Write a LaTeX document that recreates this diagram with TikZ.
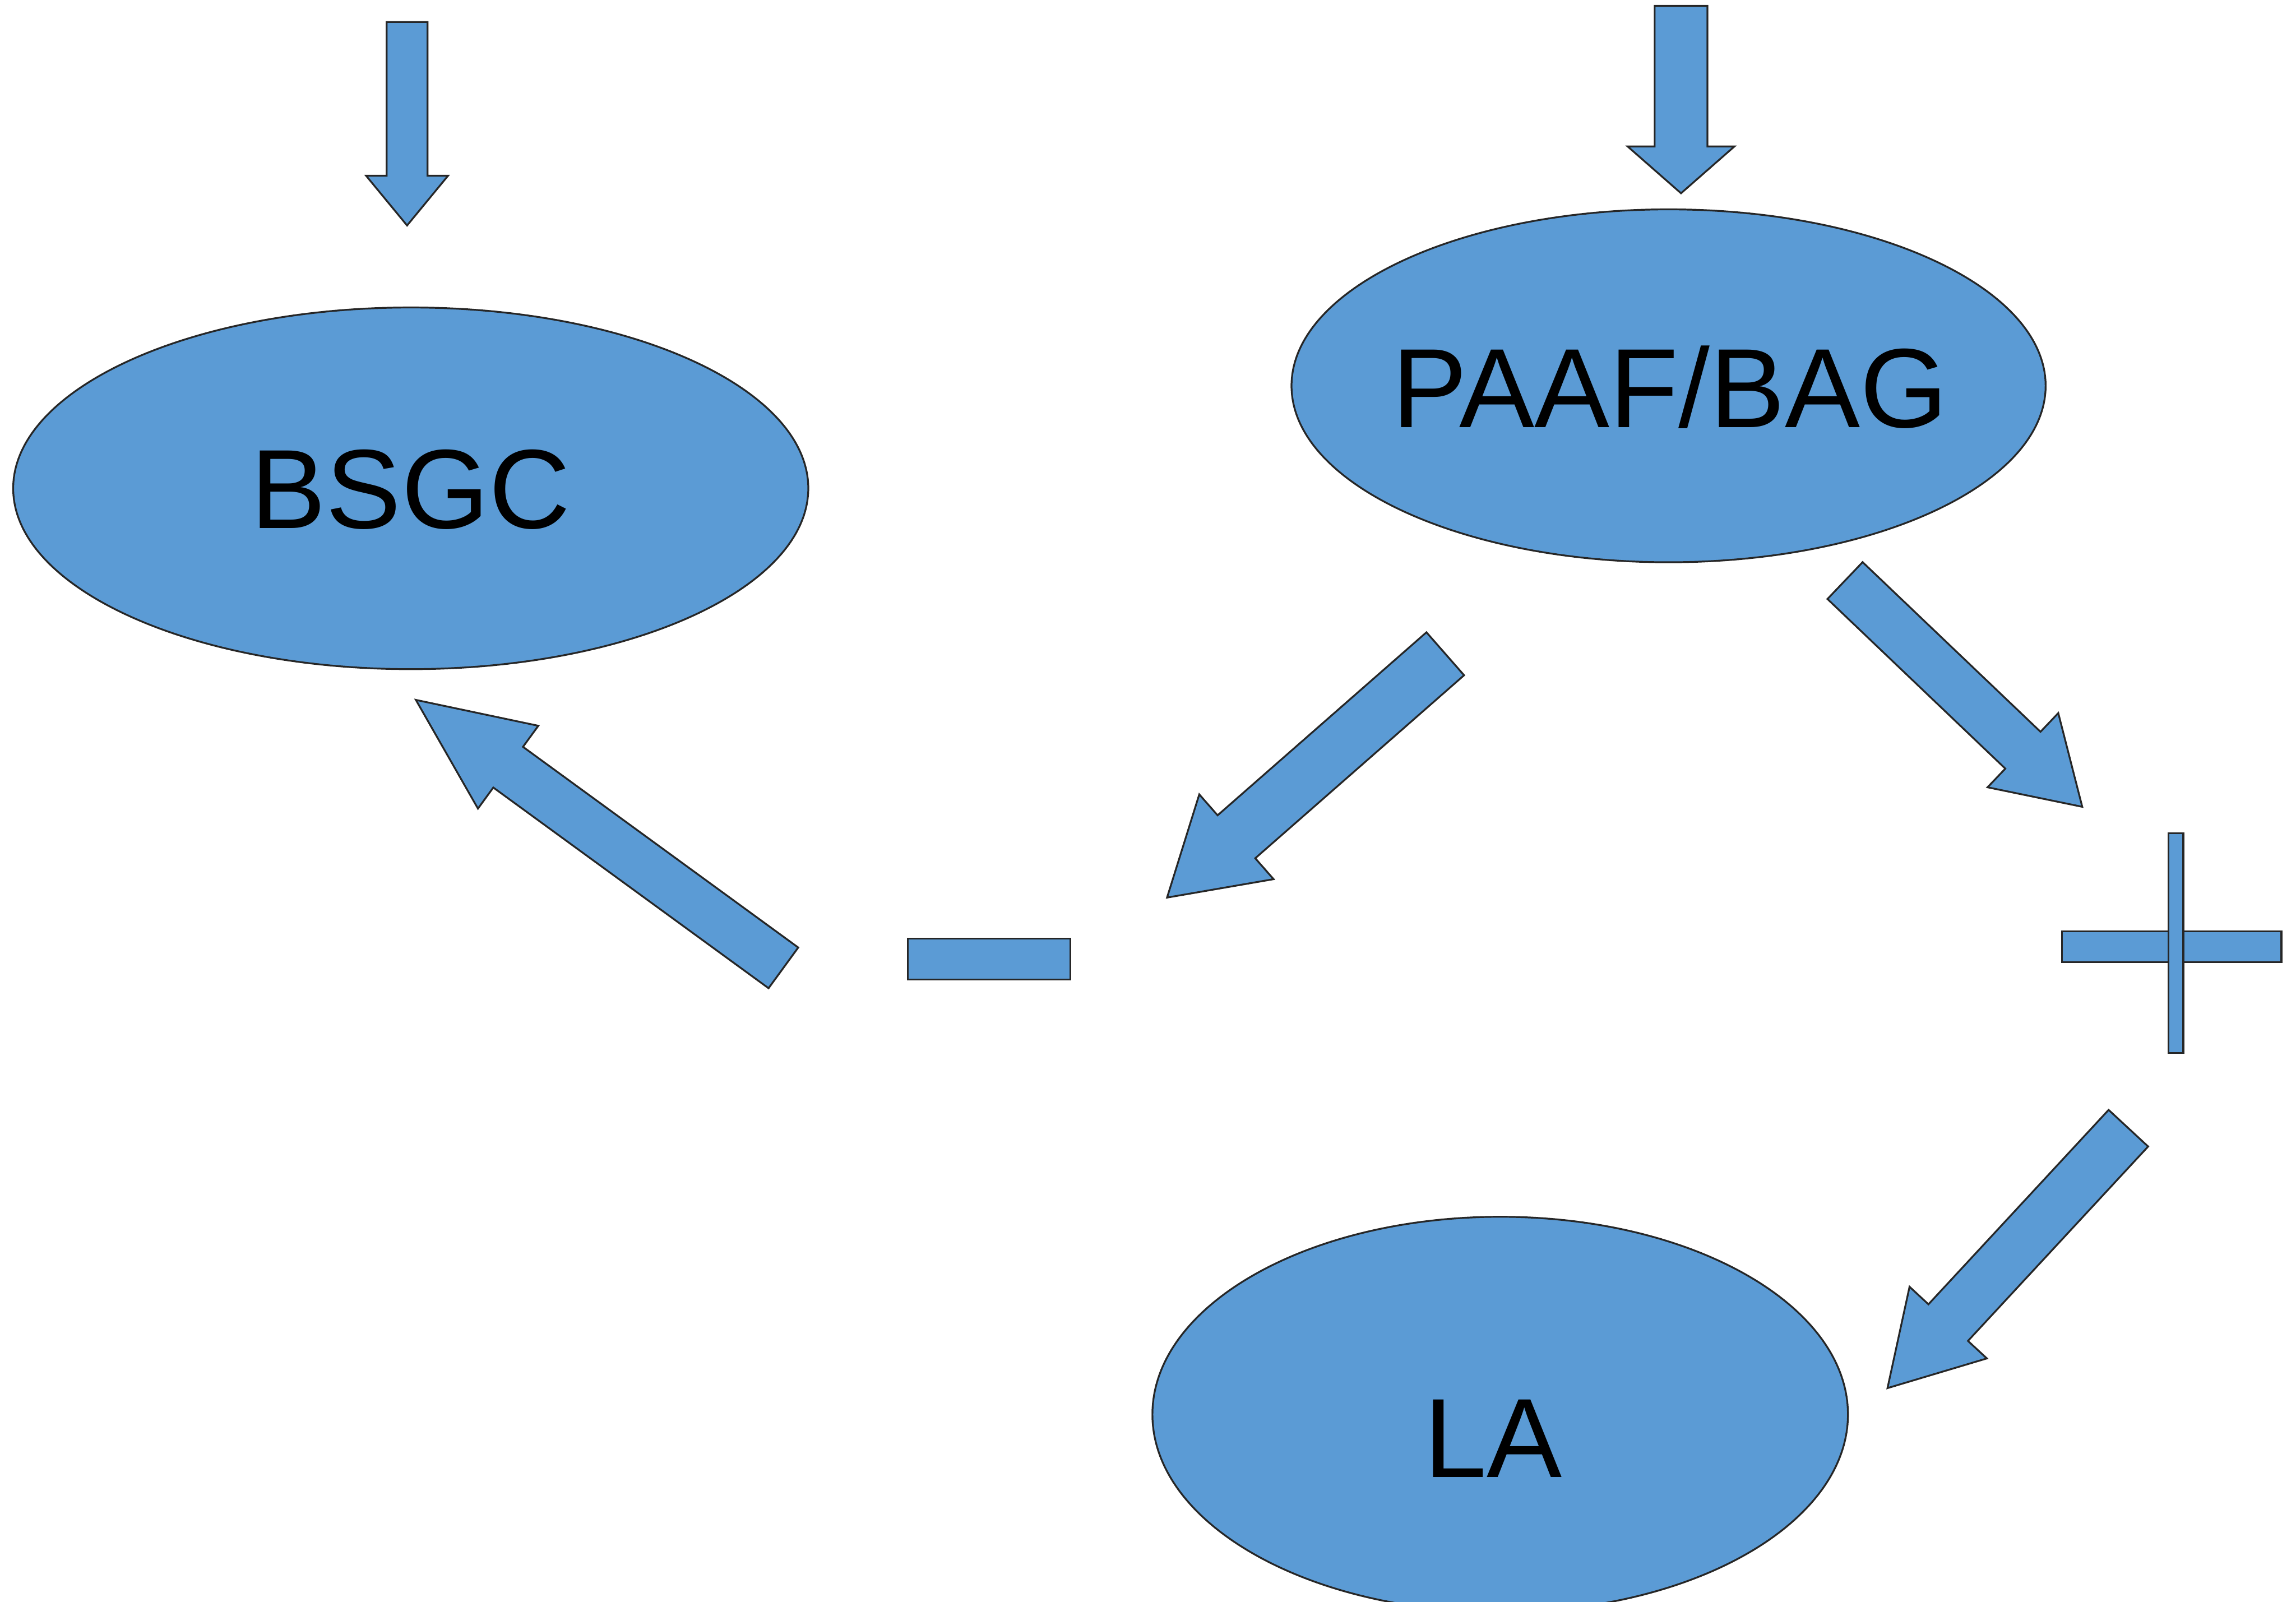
\documentclass[tikz,border=0pt]{standalone}
\usepackage{fontspec}
\setmainfont{Liberation Sans}
\usepackage{tikz}
\usetikzlibrary{shapes,arrows,positioning,calc}

\definecolor{blobblue}{HTML}{5B9BD5}

\tikzset{
    blob/.style={ellipse, fill=blobblue, draw=black!85, line width=0.35pt, inner sep=0pt},
    bar/.style={rectangle, fill=blobblue, draw=black!85, line width=0.35pt, inner sep=0pt},
    arrowfill/.style={fill=blobblue, draw=black!85, line width=0.35pt, line join=miter},
    lbl/.style={font=\fontsize{21.9}{26}\selectfont, inner sep=0pt}
}

% fat block arrow: tail, tip, half shaft, half head, head length
\newcommand{\fatarrow}[5]{%
    \coordinate (fa-base) at ($(#2)!#5!(#1)$);
    \draw[arrowfill] ($(#1)!#3!90:(#2)$) -- ($(fa-base)!#3!-90:(#1)$)
        -- ($(fa-base)!#4!-90:(#1)$) -- (#2) -- ($(fa-base)!#4!90:(#1)$)
        -- ($(fa-base)!#3!90:(#1)$) -- ($(#1)!#3!-90:(#2)$) -- cycle;
}

\begin{document}
\begin{tikzpicture}
    \useasboundingbox (0,0) rectangle (15.68,10.94);

    % the three ellipses
    \node[blob, minimum width=5.43cm, minimum height=2.47cm] (bsgc) at (2.805,7.605) {};
    \node[blob, minimum width=5.15cm, minimum height=2.41cm] (paaf) at (11.395,8.305) {};
    \node[blob, minimum width=4.75cm, minimum height=2.70cm] (la) at (10.245,1.28) {};
    \node[lbl] (bsgctext) at ([yshift=-0.1mm]bsgc.center) {BSGC};
    \node[lbl] (paaftext) at ([xshift=0.1mm, yshift=-0.1mm]paaf.center) {PAAF/BAG};
    \node[lbl] (latext) at ([xshift=-0.5mm, yshift=-1.65mm]la.center) {LA};

    % minus and plus signs
    \node[bar, minimum width=1.11cm, minimum height=0.28cm] (minus) at (6.755,4.39) {};
    \node[bar, minimum width=1.50cm, minimum height=0.21cm] (plush) at (14.83,4.475) {};
    \node[bar, minimum width=0.10cm, minimum height=1.50cm] (plusv) at (14.86,4.50) {};

    % arrow ends
    \coordinate (bsgc-in)   at (2.78,10.79);
    \coordinate (bsgc-top)  at (2.78,9.40);
    \coordinate (paaf-in)   at (11.48,10.90);
    \coordinate (paaf-top)  at (11.48,9.62);
    \coordinate (paaf-l)    at (9.87,6.475);
    \coordinate (minus-in)  at (7.97,4.81);
    \coordinate (paaf-r)    at (12.60,6.975);
    \coordinate (plus-in)   at (14.22,5.43);
    \coordinate (minus-out) at (5.35,4.33);
    \coordinate (bsgc-bot)  at (2.84,6.16);
    \coordinate (plus-out)  at (14.535,3.235);
    \coordinate (la-in)     at (12.89,1.46);

    % block arrows
    \fatarrow{bsgc-in}{bsgc-top}{0.14cm}{0.28cm}{0.34cm}
    \fatarrow{paaf-in}{paaf-top}{0.18cm}{0.365cm}{0.32cm}
    \fatarrow{paaf-l}{minus-in}{0.195cm}{0.385cm}{0.63cm}
    \fatarrow{paaf-r}{plus-in}{0.174cm}{0.35cm}{0.56cm}
    \fatarrow{minus-out}{bsgc-bot}{0.172cm}{0.35cm}{0.78cm}
    \fatarrow{plus-out}{la-in}{0.184cm}{0.36cm}{0.61cm}
\end{tikzpicture}
\end{document}
